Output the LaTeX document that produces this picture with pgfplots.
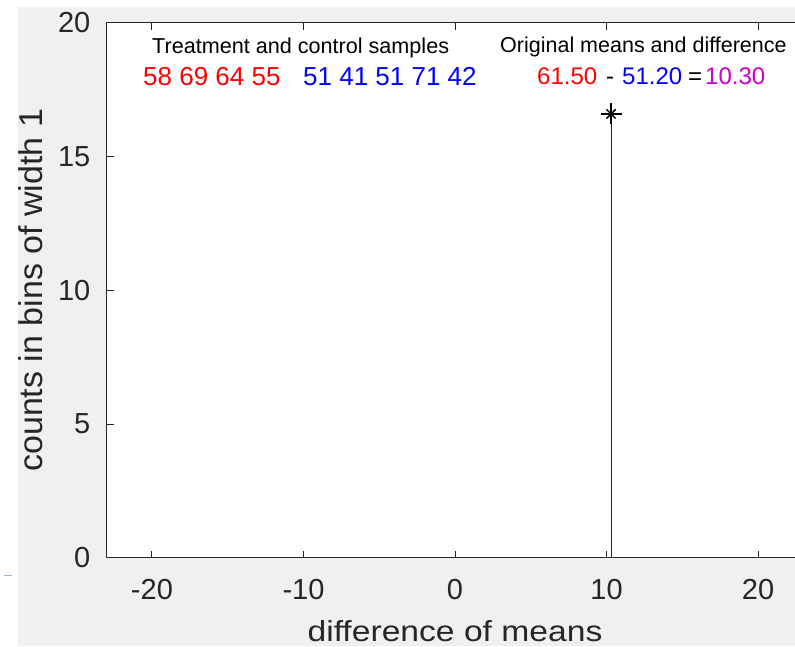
\documentclass[border=0pt]{standalone}
\usepackage{pgfplots}
\pgfplotsset{compat=1.18}
\usepackage{fontspec}
\setmainfont{Liberation Sans}
\definecolor{figgray}{HTML}{F0F0F0}
\definecolor{axgray}{HTML}{262626}
\definecolor{mred}{rgb}{1,0,0}
\definecolor{mblue}{rgb}{0,0,1}
\definecolor{mmag}{RGB}{204,0,204}
\begin{document}
\begin{tikzpicture}
\fill[white] (0,0) rectangle (795pt,646pt);
\fill[figgray] (18pt,0) rectangle (795pt,639pt);
\draw[color={rgb,255:red,150;green,175;blue,200}, line width=1.5pt] (4pt,70.3pt) -- (12pt,70.3pt);
\begin{axis}[
  at={(106.5pt,88.3pt)}, anchor=south west,
  scale only axis, width=697pt, height=534.7pt,
  xmin=-23, xmax=23, ymin=0, ymax=20,
  axis background/.style={fill=white},
  axis line style={axgray, line width=1pt},
  every tick/.style={axgray, line width=1pt},
  tick align=inside, major tick length=7pt,
  xtick={-20,-10,0,10,20}, xticklabels={-20,-10,0,10,20},
  ytick={0,5,10,15,20}, yticklabels={0,5,10,15,20},
  xticklabel style={font=\fontsize{29}{29}\selectfont, text=axgray, inner sep=0pt, yshift=-21.3pt},
  yticklabel style={font=\fontsize{29}{29}\selectfont, text=axgray, inner sep=0pt, xshift=-16pt},
  xlabel={\scalebox{1.16}[1]{difference of means}},
  ylabel={\scalebox{1.03}[1]{counts in bins of width 1}},
  xlabel style={font=\fontsize{29}{29}\selectfont, text=axgray, inner sep=0pt, at={(axis description cs:0.5,-0.1558)}, anchor=base},
  ylabel style={font=\fontsize{33}{33}\selectfont, text=axgray, inner sep=0pt, at={(axis description cs:-0.0925,0.5)}, anchor=base, rotate=0},
  clip=false,
]
\addplot[axgray, line width=1.1pt, ycomb] coordinates {(10.3,16.6)};
\addplot[only marks, mark=+, mark size=10.5pt, black, line width=1.5pt] coordinates {(10.3,16.6)};
\addplot[only marks, mark=x, mark size=6.5pt, black, line width=1.5pt] coordinates {(10.3,16.6)};
\end{axis}
\node[anchor=base west, inner sep=0pt, font=\fontsize{21.6}{22}\selectfont] at (152pt,592.7pt) {Treatment and control samples};
\node[anchor=base west, inner sep=0pt, font=\fontsize{21.5}{22}\selectfont] at (500pt,593pt) {Original means and difference};
\node[anchor=base west, inner sep=0pt, font=\fontsize{26}{26}\selectfont, text=mred] at (143pt,560pt) {58 69 64 55};
\node[anchor=base west, inner sep=0pt, font=\fontsize{26}{26}\selectfont, text=mblue] at (303pt,560pt) {51 41 51 71 42};
\node[anchor=base west, inner sep=0pt, font=\fontsize{24}{24}\selectfont, text=mred] at (537pt,561pt) {61.50};
\node[anchor=base west, inner sep=0pt, font=\fontsize{24}{24}\selectfont, text=black] at (606pt,561pt) {-};
\node[anchor=base west, inner sep=0pt, font=\fontsize{24}{24}\selectfont, text=mblue] at (622pt,561pt) {51.20};
\node[anchor=base west, inner sep=0pt, font=\fontsize{24}{24}\selectfont, text=black] at (688pt,561pt) {=};
\node[anchor=base west, inner sep=0pt, font=\fontsize{24}{24}\selectfont, text=mmag] at (705pt,561pt) {10.30};
\pgfresetboundingbox
\useasboundingbox (0,0) rectangle (795pt,646pt);
\end{tikzpicture}
\end{document}
